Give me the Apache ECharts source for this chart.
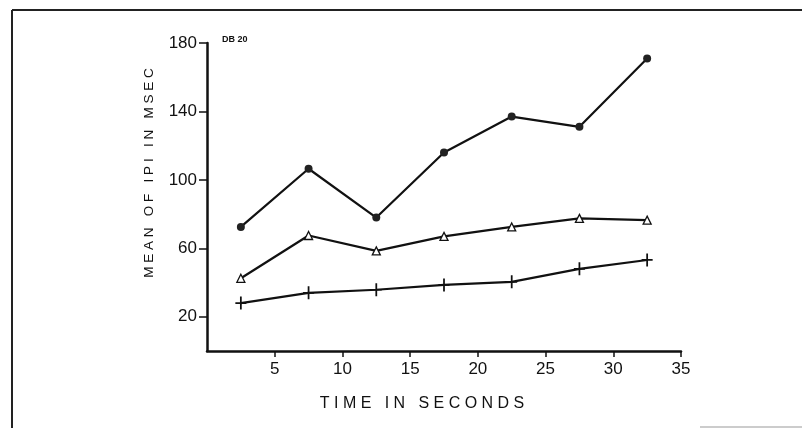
<!DOCTYPE html>
<html>
<head>
<meta charset="utf-8">
<script src="https://cdn.jsdelivr.net/npm/echarts@6/dist/echarts.min.js"></script>
<style>html,body{margin:0;padding:0;background:#fff}#c{width:802px;height:428px}</style>
</head>
<body>
<div id="c"></div>
<script>
// Data
const timeSec = [2.5, 7.5, 12.5, 17.5, 22.5, 27.5, 32.5];
const circleSeries = [72.5, 106.5, 78, 116, 137, 131, 171];
const triangleSeries = [42.5, 67.5, 58.5, 67, 72.5, 77.5, 76.5];
const crossSeries = [28, 34, 35.8, 38.6, 40.4, 48, 53.2];
const yTickValues = [20, 60, 100, 140, 180];
const xTickValues = [5, 10, 15, 20, 25, 30, 35];
const xTitle = 'T I M E   I N   S E C O N D S';
const yTitle = 'M E A N   O F   I P I   I N   M S E C';
const panelTag = 'DB 20';

const pair = (xs, ys) => xs.map((x, i) => [x, ys[i]]);
const plusPath = 'path://M4.2,0 H5.8 V5.2 H10 V6.8 H5.8 V12 H4.2 V6.8 H0 V5.2 H4.2 Z';
const FONT = 'Liberation Sans';

const chart = echarts.init(document.getElementById('c'), null, {renderer: 'canvas'});
chart.setOption({
  animation: false,
  backgroundColor: '#fff',
  grid: {left: 207, right: 121, top: 43, bottom: 77},
  xAxis: {
    type: 'value', min: 0, max: 35, interval: 5,
    name: xTitle, nameLocation: 'middle', nameGap: 45,
    nameTextStyle: {fontFamily: FONT, fontSize: 16, color: '#111', padding: [0, 44, 0, 0]},
    axisLine: {show: true, onZero: false, lineStyle: {color: '#111', width: 2.5}},
    axisTick: {show: true, length: 6, customValues: xTickValues, lineStyle: {color: '#111', width: 1.5}},
    axisLabel: {customValues: xTickValues, fontFamily: FONT, fontSize: 17, color: '#111', margin: 10},
    splitLine: {show: false}
  },
  yAxis: {
    type: 'value', min: 0, max: 180,
    name: yTitle, nameLocation: 'middle', nameGap: 51,
    nameTextStyle: {fontFamily: FONT, fontSize: 13.5, color: '#111', padding: [0, 0, 0, 48]},
    axisLine: {show: true, onZero: false, lineStyle: {color: '#111', width: 2.5}},
    axisTick: {show: true, length: 8, customValues: yTickValues, lineStyle: {color: '#111', width: 1.5}},
    axisLabel: {customValues: yTickValues, fontFamily: FONT, fontSize: 17, color: '#111', margin: 10},
    splitLine: {show: false}
  },
  graphic: [
    {type: 'line', shape: {x1: 12, y1: 10, x2: 802, y2: 10}, style: {stroke: '#222', lineWidth: 2}},
    {type: 'line', shape: {x1: 12, y1: 10, x2: 12, y2: 428}, style: {stroke: '#222', lineWidth: 2}},
    {type: 'line', shape: {x1: 700, y1: 427, x2: 802, y2: 427}, style: {stroke: '#bbb', lineWidth: 1.5}},
    {type: 'text', left: 222, top: 35, style: {text: panelTag, font: 'bold 9px "Liberation Sans"', fill: '#111'}}
  ],
  series: [
    {
      type: 'line', data: pair(timeSec, circleSeries),
      symbol: 'circle', symbolSize: 8,
      lineStyle: {color: '#111', width: 2.2},
      itemStyle: {color: '#222'}
    },
    {
      type: 'line', data: pair(timeSec, triangleSeries),
      symbol: 'triangle', symbolSize: 8,
      lineStyle: {color: '#111', width: 2.2},
      itemStyle: {color: '#fff', borderColor: '#111', borderWidth: 1.3}
    },
    {
      type: 'line', data: pair(timeSec, crossSeries),
      symbol: plusPath, symbolSize: [11, 13],
      lineStyle: {color: '#111', width: 2.2},
      itemStyle: {color: '#111'}
    }
  ]
});
</script>
</body>
</html>
